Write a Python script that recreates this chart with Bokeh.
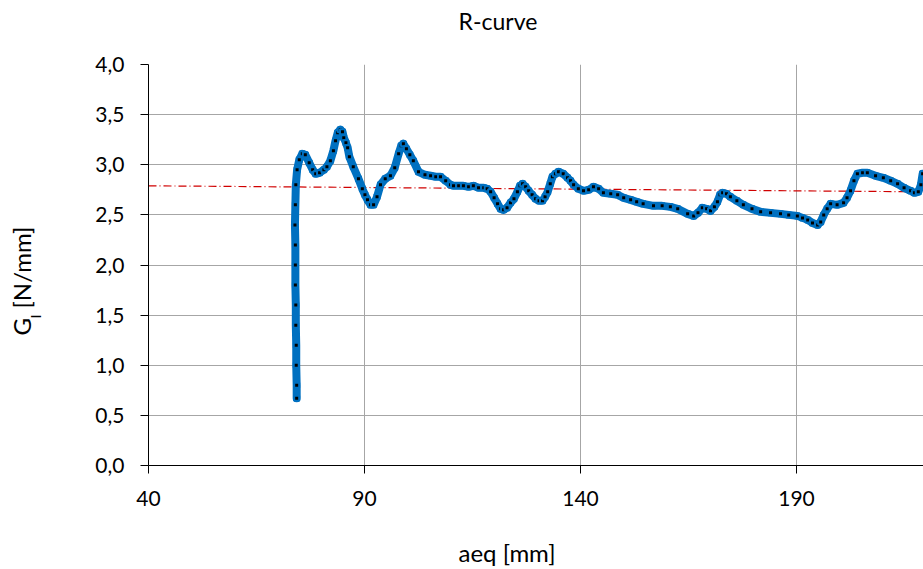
from bokeh.plotting import figure
from bokeh.models import Range1d, FixedTicker, Label
from bokeh.embed import file_html
from bokeh.resources import INLINE
import math

# ---- data ----
aeq = [74.3, 74.3, 74.2, 74.2, 74.1, 74.1, 74.0, 74.0, 74.0, 73.9, 74.0, 74.1, 74.4, 74.9,
       75.6, 76.3, 77.2, 78.0, 78.7, 79.6, 80.6, 81.3, 82.1, 82.8, 83.3, 83.8, 84.4, 84.9,
       85.2, 85.7, 86.1, 86.5, 87.4, 88.6, 89.5, 90.1, 90.7, 91.4, 92.1, 92.9, 93.7, 94.8,
       96.0, 97.0, 97.9, 98.5, 99.0, 99.7, 100.5, 101.3, 102.5, 104.0, 105.3, 106.5, 107.6,
       108.8, 109.9, 110.6, 111.8, 112.9, 114.1, 115.2, 116.4, 117.6, 118.4, 119.2, 120.0,
       120.8, 121.5, 122.2, 123.0, 123.8, 124.6, 125.4, 126.0, 126.6, 127.3, 128.0, 128.8,
       129.6, 130.4, 131.2, 131.8, 132.4, 133.0, 133.5, 134.2, 134.9, 136.0, 137.0, 137.7,
       138.4, 139.5, 140.7, 141.9, 143.0, 144.2, 145.3, 147.0, 148.6, 150.0, 151.6, 153.0,
       154.5, 156.9, 158.9, 160.8, 162.5, 164.8, 166.2, 167.2, 168.2, 169.2, 170.1, 171.0,
       171.7, 172.3, 172.9, 173.8, 174.7, 176.2, 177.7, 179.7, 181.7, 184.0, 186.3, 188.2,
       190.2, 191.4, 192.6, 193.7, 194.9, 195.6, 196.3, 197.1, 197.9, 199.4, 200.9, 201.7,
       202.5, 203.3, 204.1, 205.3, 206.4, 208.3, 210.1, 211.8, 213.4, 214.9, 216.4, 217.3,
       218.2, 218.8, 219.2]
g_i = [0.67, 0.80, 1.00, 1.20, 1.40, 1.60, 1.80, 2.00, 2.20, 2.40, 2.60, 2.80, 2.95, 3.05,
       3.11, 3.10, 3.02, 2.95, 2.91, 2.92, 2.95, 2.98, 3.04, 3.14, 3.24, 3.32, 3.35, 3.33,
       3.27, 3.22, 3.17, 3.08, 2.98, 2.86, 2.76, 2.70, 2.65, 2.60, 2.60, 2.68, 2.80, 2.86,
       2.89, 2.97, 3.11, 3.19, 3.21, 3.16, 3.10, 3.04, 2.93, 2.90, 2.89, 2.88, 2.88,
       2.84, 2.80, 2.79, 2.79, 2.79, 2.78, 2.79, 2.77, 2.77, 2.76, 2.73, 2.67,
       2.61, 2.56, 2.55, 2.57, 2.62, 2.66, 2.73, 2.79, 2.81, 2.78, 2.74, 2.70,
       2.66, 2.64, 2.64, 2.68, 2.73, 2.81, 2.88, 2.91, 2.93, 2.91, 2.87, 2.84,
       2.80, 2.76, 2.74, 2.75, 2.78, 2.76, 2.72, 2.71, 2.70, 2.67, 2.65, 2.63,
       2.61, 2.59, 2.59, 2.58, 2.56, 2.51, 2.49, 2.52, 2.57, 2.56, 2.54, 2.58,
       2.63, 2.70, 2.72, 2.71, 2.68, 2.64, 2.60, 2.56, 2.53, 2.52, 2.51, 2.50,
       2.49, 2.47, 2.45, 2.42, 2.40, 2.43, 2.50, 2.56, 2.61, 2.60, 2.62, 2.67,
       2.74, 2.84, 2.91, 2.92, 2.92, 2.89, 2.87, 2.84, 2.81, 2.77, 2.74, 2.72,
       2.73, 2.80, 2.91]

trend_x = [40.0, 219.4]
trend_y = [2.79, 2.73]

x_ticks = [40, 90, 140, 190]
y_ticks = [0.0, 0.5, 1.0, 1.5, 2.0, 2.5, 3.0, 3.5, 4.0]
y_tick_labels = ["0,0", "0,5", "1,0", "1,5", "2,0", "2,5", "3,0", "3,5", "4,0"]

title_text = "R-curve"
x_label = "aeq [mm]"
y_label_main = "G"
y_label_sub = "I"
y_label_unit = "[N/mm]"

FONT = "Lato"
W, H = 923, 569
FL, FT, FB = 148, 64, 104   # frame borders

p = figure(width=W, height=H, output_backend="svg", toolbar_location=None,
           x_range=Range1d(40, 219.4), y_range=Range1d(0, 4),
           min_border_left=FL, min_border_right=0, min_border_top=FT,
           min_border_bottom=FB, title=None)
p.outline_line_color = None
p.background_fill_color = "white"
p.border_fill_color = "white"

for g in (p.xgrid, p.ygrid):
    g.grid_line_color = "#a6a6a6"
    g.grid_line_width = 1
p.xgrid.ticker = FixedTicker(ticks=x_ticks)
p.ygrid.ticker = FixedTicker(ticks=y_ticks)

p.xaxis.ticker = FixedTicker(ticks=x_ticks)
p.yaxis.ticker = FixedTicker(ticks=y_ticks)
p.yaxis.major_label_overrides = {t: l for t, l in zip(y_ticks, y_tick_labels)}
for ax in (p.xaxis, p.yaxis):
    ax.axis_line_color = "black"
    ax.axis_line_width = 1
    ax.major_tick_line_color = "black"
    ax.major_tick_in = 0
    ax.major_tick_out = 8
    ax.minor_tick_line_color = None
    ax.major_label_text_font = FONT
    ax.major_label_text_font_size = "21px"
    ax.major_label_text_color = "black"
p.yaxis.major_label_standoff = 16
p.xaxis.major_label_standoff = 17

p.line(trend_x, trend_y, line_color="#d00000", line_width=1.2, line_dash="8 3 1 3")
p.line(aeq, g_i, line_color="#0070c0", line_width=8, line_join="round", line_cap="round")
p.scatter(aeq, g_i, marker="square", size=5, fill_color="black",
          line_color="#0070c0", line_width=2)


def mk(x_px, y_px, text, size, angle=0.0, baseline="middle"):
    # positions in canvas pixels (from top-left)
    return Label(x=x_px, y=y_px, x_units="canvas", y_units="canvas", angle=angle,
                 text=text, text_font=FONT, text_color="black",
                 text_baseline=baseline, text_align="left", text_font_size=size)


p.add_layout(mk(458, 20, title_text, "23px", baseline="alphabetic"), "above")
p.add_layout(mk(458, 552, x_label, "24px", baseline="alphabetic"), "below")
rot = math.pi / 2
p.add_layout(mk(21, 335, y_label_main, "24px", angle=rot), "left")
p.add_layout(mk(35, 318, y_label_sub, "14px", angle=rot), "left")
p.add_layout(mk(21, 308, y_label_unit, "24px", angle=rot), "left")

open("out.html", "w").write(file_html(p, INLINE))
